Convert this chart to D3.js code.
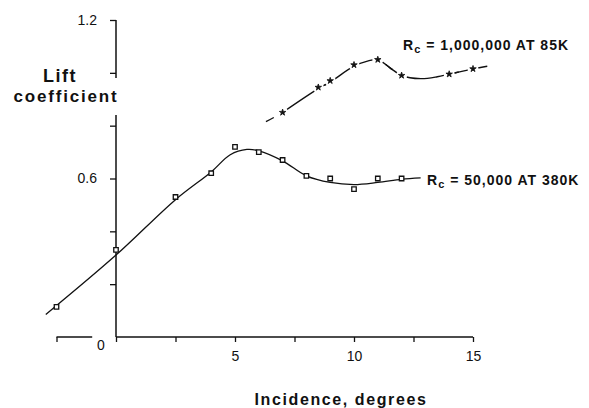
<!DOCTYPE html>
<html lang="en">
	<head>
		<meta charset="utf-8">
		<title>Lift coefficient vs incidence</title>
		<script type="text/javascript" src="https://cdn.jsdelivr.net/npm/d3@7"></script>
		<style type="text/css">
			body {
				margin: 0;
				background-color: #fff;
			}
			svg text {
				font-family: "Liberation Sans", Arial, sans-serif;
				fill: #111;
			}
			.lbl {
				font-weight: bold;
			}
			.tick text {
				font-size: 14px;
			}
		</style>
	</head>
	<body>
		<script type="text/javascript">

			//Width and height
			var w = 589;
			var h = 408;

			//Rc = 50,000 at 380K : measured points (open squares)
			var lowX = [-2.5, 0, 2.5, 4, 5, 6, 7, 8, 9, 10, 11, 12];
			var lowY = [0.114, 0.33, 0.53, 0.62, 0.72, 0.70, 0.67, 0.61, 0.60, 0.56, 0.60, 0.60];
			//faired curve through them
			var lowFitX = [-2.95, 0, 2.5, 4, 4.8, 5.5, 6, 7, 8, 9, 10, 11, 12, 12.8];
			var lowFitY = [0.085, 0.31, 0.52, 0.625, 0.69, 0.71, 0.705, 0.667, 0.61, 0.585, 0.577, 0.585, 0.597, 0.602];

			//Rc = 1,000,000 at 85K : measured points (stars)
			var highX = [7, 8.5, 9, 10, 11, 12, 14, 15];
			var highY = [0.85, 0.945, 0.97, 1.03, 1.05, 0.99, 0.995, 1.015];
			//faired curve, broken at each star
			var highFitX = [6.3, 7, 8.5, 9, 10, 10.6, 11, 11.5, 12, 12.8, 13.5, 14, 15, 15.6];
			var highFitY = [0.815, 0.85, 0.94, 0.965, 1.025, 1.045, 1.05, 1.02, 0.99, 0.978, 0.985, 0.995, 1.015, 1.025];

			//axis ticks and labels
			var xTicks = [-2.5, 0, 2.5, 5, 7.5, 10, 12.5, 15];
			var xLabels = [5, 10, 15];
			var yTicks = [0.2, 0.4, 0.6, 0.8, 1.0, 1.2];
			var yLabels = [0.6, 1.2];

			var zip = function(xs, ys) {
				return xs.map(function(d, i) { return [d, ys[i]]; });
			};

			var x = d3.scaleLinear().domain([0, 15]).range([116, 473]);
			var y = d3.scaleLinear().domain([0, 1.2]).range([337, 20]);

			var svg = d3.select("body")
						.append("svg")
						.attr("width", w)
						.attr("height", h);

			//x axis: ticks from the axis generator, domain drawn in two pieces around the "0"
			var xAxis = d3.axisBottom(x)
						.tickValues(xTicks)
						.tickSize(5)
						.tickPadding(9)
						.tickFormat(function(d) { return xLabels.indexOf(d) >= 0 ? d : ""; });

			var gx = svg.append("g")
						.attr("transform", "translate(0," + y(0) + ")")
						.call(xAxis);
			gx.select(".domain").remove();
			gx.selectAll(".tick line").attr("stroke", "#111").attr("stroke-width", 1.3);

			svg.append("line")
				.attr("x1", x(-2.5)).attr("x2", x(-1))
				.attr("y1", y(0)).attr("y2", y(0))
				.attr("stroke", "#111").attr("stroke-width", 1.6);
			svg.append("line")
				.attr("x1", x(0)).attr("x2", x(15))
				.attr("y1", y(0)).attr("y2", y(0))
				.attr("stroke", "#111").attr("stroke-width", 1.6);

			svg.append("text")
				.attr("x", 101)
				.attr("y", 350)
				.attr("text-anchor", "middle")
				.style("font-size", "14px")
				.text("0");

			//y axis, broken where the title sits
			var yAxis = d3.axisLeft(y)
						.tickValues(yTicks)
						.tickSize(6)
						.tickPadding(13)
						.tickFormat(function(d) { return yLabels.indexOf(d) >= 0 ? d3.format(".1f")(d) : ""; });

			var gy = svg.append("g")
						.attr("transform", "translate(" + x(0) + ",0)")
						.call(yAxis);
			gy.select(".domain").remove();
			gy.selectAll(".tick line").attr("stroke", "#111").attr("stroke-width", 1.3);

			svg.append("line")
				.attr("x1", x(0)).attr("x2", x(0))
				.attr("y1", y(1.2)).attr("y2", y(0.98))
				.attr("stroke", "#111").attr("stroke-width", 1.5);
			svg.append("line")
				.attr("x1", x(0)).attr("x2", x(0))
				.attr("y1", y(0.84)).attr("y2", y(0))
				.attr("stroke", "#111").attr("stroke-width", 1.5);

			//curves
			var line = d3.line()
						.x(function(d) { return x(d[0]); })
						.y(function(d) { return y(d[1]); })
						.curve(d3.curveCatmullRom.alpha(0.5));

			svg.append("path")
				.datum(zip(lowFitX, lowFitY))
				.attr("d", line)
				.attr("fill", "none")
				.attr("stroke", "#111")
				.attr("stroke-width", 1.3);

			svg.append("path")
				.datum(zip(highFitX, highFitY))
				.attr("d", line)
				.attr("fill", "none")
				.attr("stroke", "#111")
				.attr("stroke-width", 1.4)
				.attr("stroke-dasharray", "9,60");

			svg.append("path")
				.datum(zip(highFitX, highFitY).slice(1))
				.attr("d", line)
				.attr("fill", "none")
				.attr("stroke", "#111")
				.attr("stroke-width", 1.4);

			//markers
			svg.selectAll(".sq")
				.data(zip(lowX, lowY))
				.enter()
				.append("path")
				.attr("class", "sq")
				.attr("transform", function(d) { return "translate(" + x(d[0]) + "," + y(d[1]) + ")"; })
				.attr("d", d3.symbol(d3.symbolSquare, 20))
				.attr("fill", "#fff")
				.attr("stroke", "#111")
				.attr("stroke-width", 1.3);

			//white halo breaks the dashed curve around each star
			var stars = svg.selectAll(".star")
				.data(zip(highX, highY))
				.enter()
				.append("g")
				.attr("class", "star")
				.attr("transform", function(d) { return "translate(" + x(d[0]) + "," + y(d[1]) + ")"; });

			stars.append("circle")
				.attr("r", 5.5)
				.attr("fill", "#fff");

			stars.append("path")
				.attr("d", d3.symbol(d3.symbolStar, 13))
				.attr("fill", "#111")
				.attr("stroke", "#111")
				.attr("stroke-width", 0.8);

			//titles
			svg.append("text")
				.attr("class", "lbl")
				.attr("x", 60)
				.attr("y", 82)
				.attr("text-anchor", "middle")
				.style("font-size", "18px")
				.style("letter-spacing", "1.5px")
				.text("Lift");

			svg.append("text")
				.attr("class", "lbl")
				.attr("x", 66)
				.attr("y", 102)
				.attr("text-anchor", "middle")
				.style("font-size", "17px")
				.style("letter-spacing", "1.8px")
				.text("coefficient");

			svg.append("text")
				.attr("class", "lbl")
				.attr("x", 341)
				.attr("y", 405)
				.attr("text-anchor", "middle")
				.style("font-size", "16px")
				.style("letter-spacing", "1.6px")
				.text("Incidence, degrees");

			//curve labels
			var addRc = function(px, py, rest) {
				var t = svg.append("text")
							.attr("class", "lbl")
							.attr("x", px)
							.attr("y", py)
							.style("font-size", "14px")
							.style("letter-spacing", "1px");
				t.append("tspan").text("R");
				t.append("tspan").attr("dy", 3).style("font-size", "11px").text("c");
				t.append("tspan").attr("dy", -3).text(" = " + rest);
			};
			addRc(403, 50, "1,000,000 AT 85K");
			addRc(427, 185, "50,000 AT 380K");

		</script>
	</body>
</html>
